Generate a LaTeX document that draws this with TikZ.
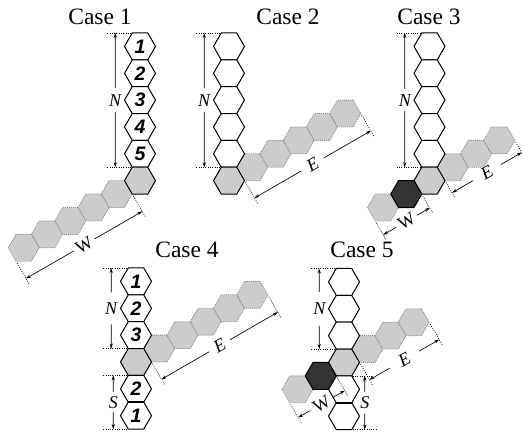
\documentclass[tikz,border=0pt]{standalone}
\usepackage{fontspec}
\setmainfont{Liberation Serif}
\setsansfont{Liberation Sans}
\usetikzlibrary{shapes.geometric,arrows.meta,calc}

\definecolor{armgray}{HTML}{CCCCCC}
\definecolor{armedge}{HTML}{8A8A8A}
\definecolor{darkfill}{HTML}{333333}

\tikzset{
 hexb/.style={regular polygon, regular polygon sides=6, minimum size=31pt, inner sep=0pt, outer sep=0pt, line width=1pt, font=\fontsize{19.5}{19.5}\selectfont\sffamily\bfseries\itshape},
 whitehex/.style={hexb, draw=black, fill=white},
 junchex/.style={hexb, draw=black, fill=armgray},
 armhex/.style={hexb, draw=armedge, fill=armgray, dash pattern=on 1pt off 1pt, line width=0.8pt},
 darkhex/.style={hexb, draw=black, fill=darkfill},
 extln/.style={line width=0.6pt, dash pattern=on 1pt off 1.3pt},
 dimln/.style={line width=0.65pt, -{Stealth[length=5pt,width=3.2pt]}},
 dimlab/.style={font=\fontsize{18}{18}\selectfont, inner sep=0pt},
 title/.style={font=\fontsize{23.5}{24}\selectfont, anchor=base, inner sep=0pt},
}

% #1 near corner, #2 far corner, #3 offset, #4 half gap, #5 label, #6 name
\newcommand\diagdim[6]{%
  \draw[extln] ($(#1)+(1,1.732)$) -- ($(#1)+({(#3+6)*0.5},{(#3+6)*0.866})$);
  \draw[extln] ($(#2)+(1,1.732)$) -- ($(#2)+({(#3+6)*0.5},{(#3+6)*0.866})$);
  \coordinate (#6a) at ($(#1)+({#3*0.5},{#3*0.866})$);
  \coordinate (#6b) at ($(#2)+({#3*0.5},{#3*0.866})$);
  \coordinate (#6m) at ($(#6a)!0.5!(#6b)$);
  \draw[dimln] ($(#6m)!#4!(#6a)$) -- (#6a);
  \draw[dimln] ($(#6m)!#4!(#6b)$) -- (#6b);
  \node[dimlab, rotate=30] (#6) at (#6m) {#5};
}
% #1 top, #2 bottom, #3 half gap, #4 label, #5 name
\newcommand\vertdim[5]{%
  \coordinate (#5m) at ($(#1)!0.5!(#2)$);
  \draw[dimln] ($(#5m)!#3!(#1)$) -- (#1);
  \draw[dimln] ($(#5m)!#3!(#2)$) -- (#2);
  \node[dimlab] (#5) at (#5m) {#4};
}

\begin{document}
\begin{tikzpicture}[x=1pt,y=-1pt]
\useasboundingbox (0,0) rectangle (522,435);

% ---------------- Case 1 ----------------
\node[title] (t1) at (100,25) {Case 1};
\foreach \j in {1,...,5}
  \node[armhex] (c1w\j) at ({140-23.25*\j},{180.66+13.424*\j}) {};
\foreach \k in {1,...,5}
  \node[whitehex] (c1n\k) at (140,{46.424+26.847*(\k-1)}) {\k};
\node[junchex] (c1j) at (140,180.66) {};
\draw[extln] ($(c1n1.120)+(-1,0)$) -- ++(-24,0);
\draw[extln] ($(c1j.120)+(-1,0)$) -- ++(-24,0);
\coordinate (c1Nt) at ($(c1n1.120)+(-17,0)$);
\coordinate (c1Nb) at ($(c1j.120)+(-17,0)$);
\vertdim{c1Nt}{c1Nb}{12pt}{\itshape N}{c1N}
\diagdim{c1j.240}{c1w5.240}{20}{12pt}{W}{c1W}

% ---------------- Case 2 ----------------
\node[title] (t2) at (288,25) {Case 2};
\foreach \j in {1,...,5}
  \node[armhex] (c2e\j) at ({229+23.25*\j},{180.66-13.424*\j}) {};
\foreach \k in {1,...,5}
  \node[whitehex] (c2n\k) at (229,{46.424+26.847*(\k-1)}) {};
\node[junchex] (c2j) at (229,180.66) {};
\draw[extln] ($(c2n1.120)+(-1,0)$) -- ++(-24,0);
\draw[extln] ($(c2j.120)+(-1,0)$) -- ++(-24,0);
\coordinate (c2Nt) at ($(c2n1.120)+(-17,0)$);
\coordinate (c2Nb) at ($(c2j.120)+(-17,0)$);
\vertdim{c2Nt}{c2Nb}{12pt}{\itshape N}{c2N}
\diagdim{c2j.0}{c2e5.0}{20}{13pt}{\itshape E}{c2E}

% ---------------- Case 3 ----------------
\node[title] (t3) at (429,25) {Case 3};
\foreach \j in {1,...,3}
  \node[armhex] (c3e\j) at ({429.5+23.25*\j},{180.66-13.424*\j}) {};
\node[armhex] (c3w2) at ({429.5-46.5},{180.66+26.847}) {};
\foreach \k in {1,...,5}
  \node[whitehex] (c3n\k) at (429.5,{46.424+26.847*(\k-1)}) {};
\node[junchex] (c3j) at (429.5,180.66) {};
\node[darkhex] (c3w1) at ({429.5-23.25},{180.66+13.424}) {};
\draw[extln] ($(c3n1.120)+(-1,0)$) -- ++(-24,0);
\draw[extln] ($(c3j.120)+(-1,0)$) -- ++(-24,0);
\coordinate (c3Nt) at ($(c3n1.120)+(-17,0)$);
\coordinate (c3Nb) at ($(c3j.120)+(-17,0)$);
\vertdim{c3Nt}{c3Nb}{11pt}{\itshape N}{c3N}
\diagdim{c3j.0}{c3e3.0}{14}{16pt}{\itshape E}{c3E}
\diagdim{c3j.240}{c3w2.240}{16}{12pt}{W}{c3W}

% ---------------- Case 4 ----------------
\node[title] (t4) at (187,258) {Case 4};
\foreach \j in {1,...,5}
  \node[armhex] (c4e\j) at ({136+23.25*\j},{361.97-13.424*\j}) {};
\foreach \k in {1,...,3}
  \node[whitehex] (c4n\k) at (136,{281.424+26.847*(\k-1)}) {\k};
\node[junchex] (c4j) at (136,361.97) {};
\node[whitehex] (c4s2) at (136,388.82) {2};
\node[whitehex] (c4s1) at (136,415.66) {1};
\draw[line width=1.8pt] (c4s2.240) -- (c4s2.300);
\draw[extln] ($(c4n1.120)+(-1,0)$) -- ++(-24,0);
\draw[extln] ($(c4j.120)+(-1,0)$) -- ++(-24,0);
\draw[extln] ($(c4j.240)+(-1,0)$) -- ++(-24,0);
\draw[extln] ($(c4s1.240)+(-1,0)$) -- ++(-24,0);
\coordinate (c4Nt) at ($(c4n1.120)+(-17,0)$);
\coordinate (c4Nb) at ($(c4j.120)+(-17,0)$);
\vertdim{c4Nt}{c4Nb}{16pt}{\itshape N}{c4N}
\coordinate (c4St) at ($(c4j.240)+(-15,0)$);
\coordinate (c4Sb) at ($(c4s1.240)+(-15,0)$);
\vertdim{c4St}{c4Sb}{10pt}{\itshape S}{c4S}
\diagdim{c4j.0}{c4e5.0}{20}{12pt}{\itshape E}{c4E}

% ---------------- Case 5 ----------------
\node[title] (t5) at (362,258) {Case 5};
\foreach \j in {1,...,3}
  \node[armhex] (c5e\j) at ({344+23.25*\j},{362.47-13.424*\j}) {};
\node[armhex] (c5w2) at ({344-46.5},{362.47+26.847}) {};
\foreach \k in {1,...,3}
  \node[whitehex] (c5n\k) at (344,{281.924+26.847*(\k-1)}) {};
\node[junchex] (c5j) at (344,362.47) {};
\node[whitehex] (c5s1) at (344,389.32) {};
\node[whitehex] (c5s2) at (344,416.16) {};
\draw[line width=1.8pt] (c5s1.240) -- (c5s1.300);
\node[darkhex] (c5w1) at ({344-23.25},{362.47+13.424}) {};
\draw[extln] ($(c5n1.120)+(-1,0)$) -- ++(-24,0);
\draw[extln] ($(c5j.120)+(-1,0)$) -- ++(-24,0);
\draw[extln] ($(c5j.300)+(1,0)$) -- ++(19,0);
\draw[extln] ($(c5s2.300)+(1,0)$) -- ++(24,0);
\coordinate (c5Nt) at ($(c5n1.120)+(-17,0)$);
\coordinate (c5Nb) at ($(c5j.120)+(-17,0)$);
\vertdim{c5Nt}{c5Nb}{17pt}{\itshape N}{c5N}
\coordinate (c5St) at ($(c5j.300)+(13,0)$);
\coordinate (c5Sb) at ($(c5s2.300)+(13,0)$);
\vertdim{c5St}{c5Sb}{11pt}{\itshape S}{c5S}
\diagdim{c5j.0}{c5e3.0}{20}{17pt}{\itshape E}{c5E}
\diagdim{c5j.240}{c5w2.240}{17}{13pt}{W}{c5W}
\end{tikzpicture}
\end{document}
